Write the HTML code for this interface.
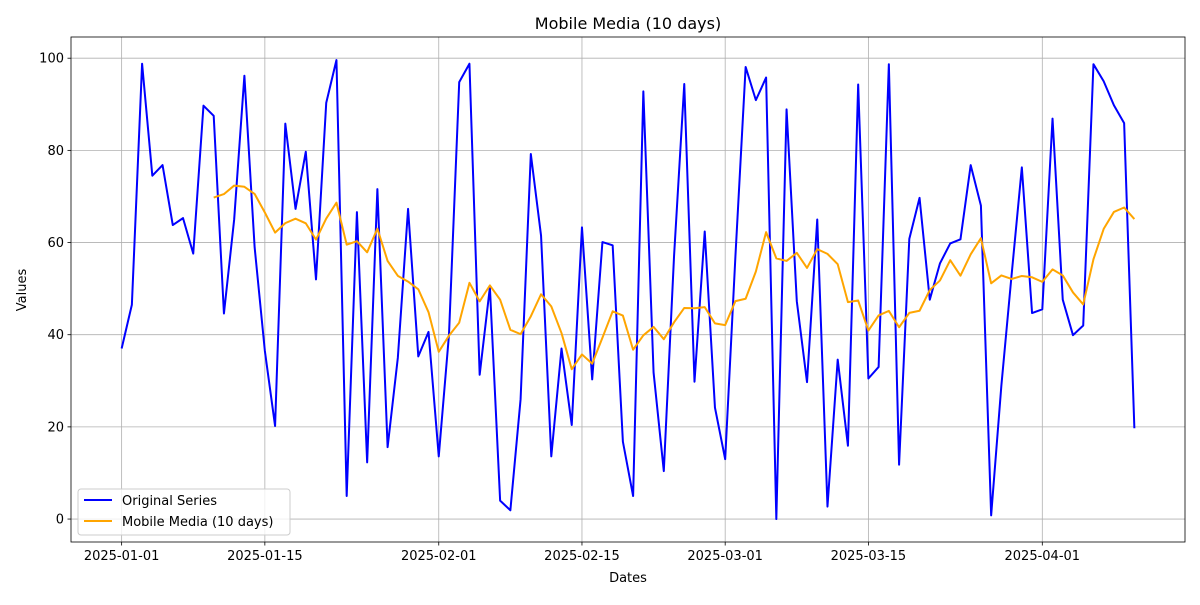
<!DOCTYPE html>
<html><head><meta charset="utf-8"><style>
body{margin:0;background:#fff;}
svg text{font-family:"DejaVu Sans","Liberation Sans",sans-serif;fill:#000;}
</style></head><body>
<svg id="chart" width="1200" height="600" xmlns="http://www.w3.org/2000/svg">
<rect width="1200" height="600" fill="#fff"/>
<g id="grid"></g>
<g id="plot"></g>
<rect x="71" y="37" width="1114" height="505" fill="none" stroke="#000" stroke-width="0.8"/>
<g id="ticks"></g>
<text x="628" y="29" text-anchor="middle" font-size="16">Mobile Media (10 days)</text>
<text x="628" y="582" text-anchor="middle" font-size="13">Dates</text>
<text transform="translate(26,290) rotate(-90)" text-anchor="middle" font-size="13">Values</text>
<g>
<rect x="78" y="489" width="212" height="46" rx="3" fill="#fff" fill-opacity="0.8" stroke="#ccc"/>
<g>
<line x1="84" y1="500" x2="112" y2="500" stroke="#0000ff" stroke-width="2"/>
<text x="122" y="505" font-size="13">Original Series</text></g>
<g>
<line x1="84" y1="521" x2="112" y2="521" stroke="#ffa500" stroke-width="2"/>
<text x="122" y="526" font-size="13">Mobile Media (10 days)</text></g>
</g>
</svg>
<script>
const values = [37,46.5,98.8,74.5,76.8,63.8,65.3,57.6,89.7,87.5,
44.6,65,96.2,59,36.5,20.2,85.8,67.3,79.7,52,
90.3,99.6,5,66.6,12.3,71.6,15.6,35,67.3,35.3,
40.6,13.6,40,94.8,98.8,31.3,50.3,4,1.9,26,
79.2,61.5,13.6,37,20.4,63.3,30.3,60.1,59.4,16.8,
5,92.8,31.8,10.4,57,94.4,29.8,62.4,24.2,13,
57,98.1,90.9,95.8,0,88.9,47.3,29.7,65,2.7,
34.6,15.9,94.3,30.5,33,98.7,11.8,60.8,69.7,47.6,
55.5,59.8,60.7,76.8,68,0.8,29,53,76.3,44.7,
45.5,86.9,47.6,39.9,42,98.7,95,89.8,85.9,19.7];
const windowSize = 10;
const xTickLabels = ["2025-01-01","2025-01-15","2025-02-01","2025-02-15","2025-03-01","2025-03-15","2025-04-01"];
const xTickDays = [0,14,31,45,59,73,90];
const yTicks = [0,20,40,60,80,100];

const L=71,R=1185,T=37,B=542;
const n=values.length;
const xmin=-0.05*(n-1), xmax=(n-1)*1.05;
const ymin=-4.98, ymax=104.6;
const X=d=>L+(d-xmin)/(xmax-xmin)*(R-L);
const Y=v=>B-(v-ymin)/(ymax-ymin)*(B-T);
const NS="http://www.w3.org/2000/svg";
function mk(tag,attrs,parent){const e=document.createElementNS(NS,tag);for(const k in attrs)e.setAttribute(k,attrs[k]);parent.appendChild(e);return e;}
const grid=document.getElementById('grid'),ticks=document.getElementById('ticks'),plot=document.getElementById('plot');
xTickDays.forEach((d,i)=>{
  const x=X(d);
  const g=mk('line',{x1:x,x2:x,y1:T,y2:B,stroke:'#b0b0b0','stroke-width':0.8},grid);
  
  
  mk('line',{x1:x,x2:x,y1:B,y2:B+3.5,stroke:'#000','stroke-width':0.8},ticks);
  const t=mk('text',{x:x,y:B+18,'text-anchor':'middle','font-size':13},ticks);
  t.textContent=xTickLabels[i];
  
  
});
yTicks.forEach(v=>{
  const y=Y(v);
  const g=mk('line',{x1:L,x2:R,y1:y,y2:y,stroke:'#b0b0b0','stroke-width':0.8},grid);
  
  
  mk('line',{x1:L-3.5,x2:L,y1:y,y2:y,stroke:'#000','stroke-width':0.8},ticks);
  const t=mk('text',{x:L-7,y:y+4.5,'text-anchor':'end','font-size':13},ticks);
  t.textContent=v;
  
  
});
const p1=mk('polyline',{points:values.map((v,i)=>X(i)+','+Y(v)).join(' '),fill:'none',stroke:'#0000ff','stroke-width':2,'stroke-linejoin':'round'},plot);


const ma=[];
for(let i=windowSize-1;i<n;i++){let s=0;for(let j=i-windowSize+1;j<=i;j++)s+=values[j];ma.push([i,s/windowSize]);}
const p2=mk('polyline',{points:ma.map(([i,v])=>X(i)+','+Y(v)).join(' '),fill:'none',stroke:'#ffa500','stroke-width':2,'stroke-linejoin':'round'},plot);


</script>
</body></html>
